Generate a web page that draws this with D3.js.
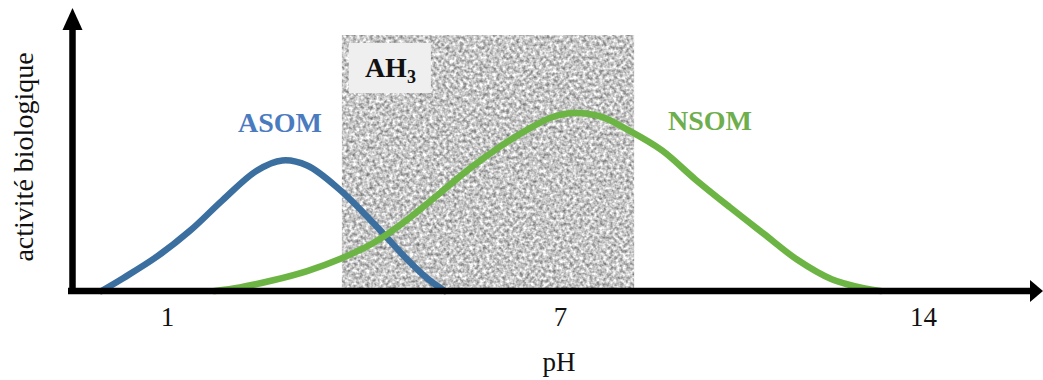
<!DOCTYPE html>
<html>
<head>
<meta charset="utf-8">
<script src="https://cdn.jsdelivr.net/npm/d3@7"></script>
<style>
  html, body { margin: 0; padding: 0; background: #ffffff; }
  svg { display: block; }
</style>
</head>
<body>
<svg id="chart" width="1043" height="380"></svg>
<script>
// ---- data (pH vs. relative biological activity) ----
const tickValues = [1, 7, 14];
const tickLabels = ["1", "7", "14"];
const asomPH  = [0.0, 0.33, 0.85, 1.35, 1.85, 2.37, 2.76, 3.14, 3.64, 4.15, 4.66, 4.97, 5.24];
const asomAct = [0, 5.0, 13.5, 23.5, 35.5, 47.0, 51.0, 49.0, 39.5, 26.6, 12.5, 5.0, 0];
const nsomPH  = [1.73, 2.11, 2.62, 3.14, 3.64, 4.15, 4.66, 5.17, 5.63, 6.08, 6.59, 6.85, 7.24, 7.78, 8.31, 8.96, 9.61, 10.27, 10.92, 11.57, 12.24, 12.88, 13.18];
const nsomAct = [0, 1.4, 4.2, 7.8, 12.5, 18.75, 27.7, 38.3, 48.0, 56.3, 64.3, 67.6, 69.5, 68.2, 62.9, 55.0, 43.6, 32.8, 22.5, 12.3, 4.6, 1.0, 0];
const ah3Range = [3.67, 8.43];
const seriesNames = ["ASOM", "NSOM"];
const zoneLabel = "AH";
const zoneSub = "3";
const xTitle = "pH";
const yTitle = "activité biologique";

// ---- layout ----
const serif = "'Liberation Serif', 'Times New Roman', Times, serif";
const svg = d3.select("#chart");
const x = d3.scaleLinear().domain(tickValues).range([167, 560, 923]);
const y = d3.scaleLinear().domain([0, 100]).range([291, 35]);

// noise texture filter for the AH3 zone
const defs = svg.append("defs");
const f = defs.append("filter").attr("id", "noise")
  .attr("x", 0).attr("y", 0).attr("width", 1).attr("height", 1)
  .attr("color-interpolation-filters", "sRGB");
f.append("feTurbulence").attr("type", "fractalNoise")
  .attr("baseFrequency", 0.3).attr("numOctaves", 2).attr("seed", 7).attr("result", "t");
f.append("feColorMatrix").attr("in", "t").attr("type", "matrix")
  .attr("values", "0.9 0 0 0 0.33  0.9 0 0 0 0.33  0.9 0 0 0 0.33  0 0 0 0 1")
  .attr("result", "g");
f.append("feComposite").attr("in", "g").attr("in2", "SourceGraphic").attr("operator", "in");

// AH3 zone
svg.append("rect")
  .attr("x", x(ah3Range[0])).attr("y", y(100))
  .attr("width", x(ah3Range[1]) - x(ah3Range[0]))
  .attr("height", y(0) - y(100))
  .attr("fill", "#c4c4c4")
  .attr("filter", "url(#noise)");

// AH3 label box
const bx = x(ah3Range[0]) + 7;
svg.append("rect")
  .attr("x", bx).attr("y", 43).attr("width", 82).attr("height", 50)
  .attr("fill", "#efefef");
const lab = svg.append("text")
  .attr("x", bx + 16).attr("y", 77)
  .attr("font-family", serif).attr("font-weight", "bold")
  .attr("font-size", 28).attr("fill", "#111");
lab.append("tspan").text(zoneLabel);
lab.append("tspan").attr("font-size", 18).attr("dy", 6).text(zoneSub);

// curves
const line = d3.line()
  .x(d => x(d[0])).y(d => y(d[1]))
  .curve(d3.curveCatmullRom.alpha(0.5));
const asom = asomPH.map((p, i) => [p, asomAct[i]]);
const nsom = nsomPH.map((p, i) => [p, nsomAct[i]]);

svg.append("path").datum(asom)
  .attr("d", line).attr("fill", "none")
  .attr("stroke", "#3b6fa0").attr("stroke-width", 6.5)
  .attr("stroke-linecap", "round");
svg.append("path").datum(nsom)
  .attr("d", line).attr("fill", "none")
  .attr("stroke", "#6cb544").attr("stroke-width", 6.5)
  .attr("stroke-linecap", "round");

// series labels
svg.append("text").attr("x", 280).attr("y", 132)
  .attr("text-anchor", "middle")
  .attr("font-family", serif).attr("font-weight", "bold").attr("font-size", 28)
  .attr("fill", "#4a7bbf").text(seriesNames[0]);
svg.append("text").attr("x", 710).attr("y", 130)
  .attr("text-anchor", "middle")
  .attr("font-family", serif).attr("font-weight", "bold").attr("font-size", 28)
  .attr("fill", "#6fae4c").text(seriesNames[1]);

// axes lines with arrows
const axY = 72.5, axX = 291;
svg.append("line").attr("x1", 68).attr("x2", 1032).attr("y1", axX).attr("y2", axX)
  .attr("stroke", "#000").attr("stroke-width", 6.5);
svg.append("path").attr("d", `M1043,${axX} L1030,${axX - 11} L1030,${axX + 11} Z`).attr("fill", "#000");
svg.append("line").attr("x1", axY).attr("x2", axY).attr("y1", axX + 3).attr("y2", 27)
  .attr("stroke", "#000").attr("stroke-width", 6.5);
svg.append("path").attr("d", `M${axY},8 L${axY - 10},30 L${axY + 10},30 Z`).attr("fill", "#000");

// tick labels via d3 axis
const xAxis = d3.axisBottom(x).tickValues(tickValues)
  .tickFormat((d, i) => tickLabels[i]).tickSize(0);
const gx = svg.append("g").attr("transform", `translate(0,${axX})`).call(xAxis);
gx.select(".domain").remove();
gx.selectAll("text")
  .attr("y", 35).attr("dy", 0)
  .attr("font-family", serif).attr("font-size", 27).attr("fill", "#111");

// axis titles
svg.append("text").attr("x", 559).attr("y", 371)
  .attr("text-anchor", "middle")
  .attr("font-family", serif).attr("font-size", 27).attr("fill", "#111")
  .text(xTitle);
svg.append("text")
  .attr("transform", "translate(33,157) rotate(-90)")
  .attr("text-anchor", "middle")
  .attr("font-family", serif).attr("font-size", 28).attr("fill", "#111")
  .text(yTitle);
</script>
</body>
</html>
